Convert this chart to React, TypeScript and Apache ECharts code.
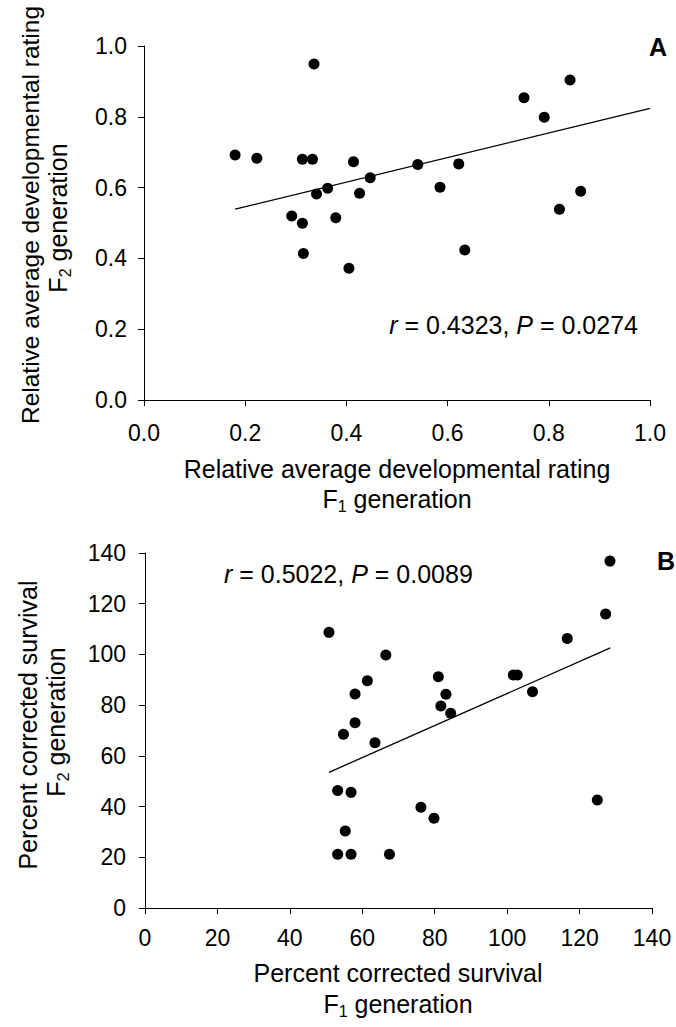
import React, { useEffect, useRef } from "react";
import * as echarts from "echarts";

// Panel A data (relative average developmental rating)
const aF1 = [0.180, 0.223, 0.336, 0.313, 0.333, 0.414, 0.447, 0.363, 0.341, 0.426, 0.292, 0.313, 0.379, 0.315, 0.405, 0.541, 0.622, 0.585, 0.634, 0.751, 0.791, 0.842, 0.821, 0.863];
const aF2 = [0.692, 0.683, 0.949, 0.680, 0.680, 0.673, 0.628, 0.598, 0.582, 0.584, 0.520, 0.499, 0.515, 0.414, 0.372, 0.665, 0.667, 0.601, 0.424, 0.854, 0.799, 0.904, 0.539, 0.590];
const aFitX = [0.18, 1.0];
const aFitY = [0.539, 0.824];

// Panel B data (percent corrected survival)
const bF1 = [50.8, 66.5, 61.4, 58.0, 58.0, 54.8, 63.5, 53.2, 56.9, 55.3, 53.2, 56.9, 67.5, 81.0, 83.1, 81.7, 84.4, 101.7, 102.8, 107.0, 116.6, 127.2, 128.4, 124.9, 76.2, 79.8];
const bF2 = [108.7, 99.8, 89.6, 84.4, 73.1, 68.5, 65.2, 46.3, 45.6, 30.4, 21.2, 21.2, 21.2, 91.2, 84.3, 79.7, 76.8, 91.9, 91.9, 85.3, 106.3, 115.9, 136.8, 42.6, 39.7, 35.4];
const bFitX = [50.8, 128.5];
const bFitY = [53.5, 102.6];

const FONT = "'Liberation Sans', Arial, sans-serif";
const TICK_FS = 23;
const TITLE_FS = 25;

function zip(xs: number[], ys: number[]) {
  return xs.map((x, i) => [x, ys[i]]);
}

function axisCommon(min: number, max: number, interval: number, fmt: (v: number) => string, margin: number) {
  return {
    min,
    max,
    interval,
    splitLine: { show: false },
    axisLine: { show: true, onZero: false, lineStyle: { color: "#000", width: 1 } },
    axisTick: { show: true, inside: false, length: 6, lineStyle: { color: "#000", width: 1 } },
    axisLabel: { color: "#000", fontSize: TICK_FS, fontFamily: FONT, margin, formatter: fmt },
  };
}

function makeRich(fs: number) {
  return {
    a: { fontSize: fs, fontFamily: FONT, color: "#000", lineHeight: 30 },
    s: { fontSize: 16, fontFamily: FONT, color: "#000", lineHeight: 14, verticalAlign: "bottom" },
    i: { fontSize: fs, fontFamily: FONT, color: "#000", fontStyle: "italic" },
    n: { fontSize: fs, fontFamily: FONT, color: "#000" },
  };
}

function txt(text: string, x: number, y: number, opts: any = {}) {
  const fs = opts.fs || TITLE_FS;
  return {
    type: "text",
    x,
    y,
    rotation: opts.rotation || 0,
    style: {
      text,
      rich: makeRich(fs),
      fill: "#000",
      font: `${opts.bold ? "bold " : ""}${fs}px ${FONT}`,
      fontSize: fs,
      fontFamily: FONT,
      fontWeight: opts.bold ? "bold" : "normal",
      textAlign: opts.align || "center",
      textVerticalAlign: "middle",
      align: opts.align || "center",
      verticalAlign: "middle",
    },
  };
}

export default function App() {
  const ref = useRef<HTMLDivElement>(null);
  useEffect(() => {
    document.body.style.margin = "0";
    const chart = echarts.init(ref.current!, null, { renderer: "svg" });
    const fmt1 = (v: number) => v.toFixed(1);
    const fmt0 = (v: number) => String(Math.round(v));
    const dot = { color: "#000", opacity: 1 };
    chart.setOption({
      animation: false,
      backgroundColor: "#fff",
      grid: [
        { left: 144, top: 46, width: 506, height: 354 },
        { left: 145, top: 553, width: 507, height: 355 },
      ],
      xAxis: [
        { type: "value", gridIndex: 0, ...axisCommon(0, 1, 0.2, fmt1, 21) },
        { type: "value", gridIndex: 1, ...axisCommon(0, 140, 20, fmt0, 18) },
      ],
      yAxis: [
        { type: "value", gridIndex: 0, ...axisCommon(0, 1, 0.2, fmt1, 17) },
        { type: "value", gridIndex: 1, ...axisCommon(0, 140, 20, fmt0, 19) },
      ],
      series: [
        {
          type: "scatter",
          xAxisIndex: 0,
          yAxisIndex: 0,
          data: zip(aF1, aF2),
          symbol: "circle",
          symbolSize: 11,
          itemStyle: dot,
        },
        {
          type: "line",
          xAxisIndex: 0,
          yAxisIndex: 0,
          data: zip(aFitX, aFitY),
          showSymbol: false,
          symbol: "none",
          lineStyle: { color: "#000", width: 1.3 },
        },
        {
          type: "scatter",
          xAxisIndex: 1,
          yAxisIndex: 1,
          data: zip(bF1, bF2),
          symbol: "circle",
          symbolSize: 11,
          itemStyle: dot,
        },
        {
          type: "line",
          xAxisIndex: 1,
          yAxisIndex: 1,
          data: zip(bFitX, bFitY),
          showSymbol: false,
          symbol: "none",
          lineStyle: { color: "#000", width: 1.3 },
        },
      ],
      graphic: [
        // Panel A titles
        txt("{a|Relative average developmental rating}", 30, 215, { rotation: Math.PI / 2, fs: 24.5 }),
        txt("{a|F}{s|2}{a| generation}", 58, 218, { rotation: Math.PI / 2 }),
        txt("{a|Relative average developmental rating}", 397, 469),
        txt("{a|F}{s|1}{a| generation}", 397, 499),
        txt("{i|r}{n| = 0.4323, }{i|P}{n| = 0.0274}", 638, 325, { align: "right" }),
        txt("A", 658, 47, { bold: true, fs: 25 }),
        // Panel B titles
        txt("{a|Percent corrected survival}", 28, 725, { rotation: Math.PI / 2 }),
        txt("{a|F}{s|2}{a| generation}", 56, 722, { rotation: Math.PI / 2 }),
        txt("{a|Percent corrected survival}", 398, 973),
        txt("{a|F}{s|1}{a| generation}", 398, 1004),
        txt("{i|r}{n| = 0.5022, }{i|P}{n| = 0.0089}", 224, 574, { align: "left" }),
        txt("B", 666, 561, { bold: true, fs: 25 }),
      ],
    });
    return () => chart.dispose();
  }, []);
  return <div ref={ref} style={{ width: 676, height: 1027 }} />;
}
